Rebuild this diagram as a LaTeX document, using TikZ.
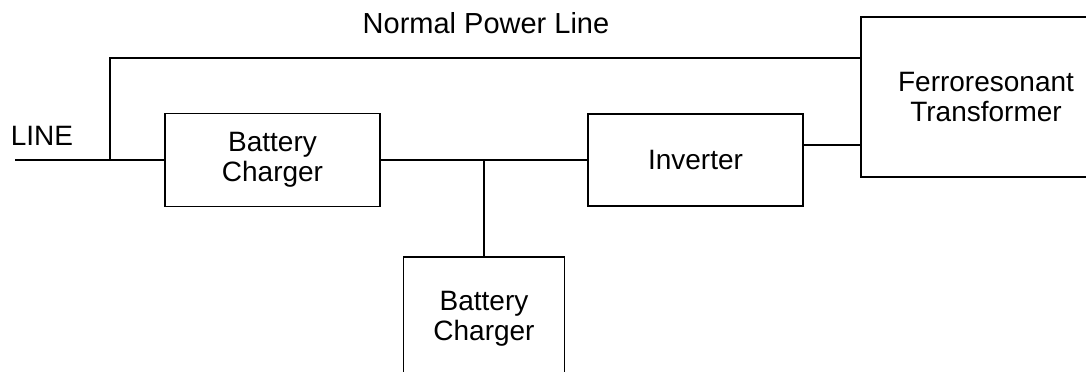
\documentclass[tikz,border=0pt]{standalone}
\usepackage{fontspec}
\setmainfont{Liberation Sans}
\usepackage{tikz}

\begin{document}
\begin{tikzpicture}[x=0.5pt,y=-0.5pt,
  blk/.style={draw,line width=0.8pt,align=center,inner sep=0pt,font=\fontsize{14}{15}\selectfont},
  wire/.style={line width=1.4pt}]
  \clip (0,0) rectangle (1086,371);
  \node[blk,minimum width=107.5pt,minimum height=46.5pt] (chg) at (272.5,160) {Battery\\Charger};
  \node[blk,minimum width=107.5pt,minimum height=46pt] (inv) at (695.5,160) {Inverter};
  \node[blk,minimum width=80.5pt,minimum height=61.5pt] (bat) at (484,318.5) {Battery\\Charger};
  \node[blk,minimum width=125pt,minimum height=80pt] (fer) at (986,97) {Ferroresonant\\Transformer};
  \coordinate (L) at (15,160);
  \coordinate (J) at (110,160);
  \coordinate (T) at (110,58);
  \coordinate (K) at (484,160);
  \coordinate (O) at (803,145);
  \draw[wire] (L)--(J)--(chg.west);
  \draw[wire] (J)--(T)--(T -| fer.west);
  \draw[wire] (chg.east)--(inv.west);
  \draw[wire] (K)--(bat.north);
  \draw[wire] (O)--(O -| fer.west);
  \node[font=\fontsize{14}{15}\selectfont] (linelbl) at (42,136) {LINE};
  \node[font=\fontsize{14.5}{15}\selectfont] (npl) at (486,23) {Normal Power Line};
\end{tikzpicture}
\end{document}
